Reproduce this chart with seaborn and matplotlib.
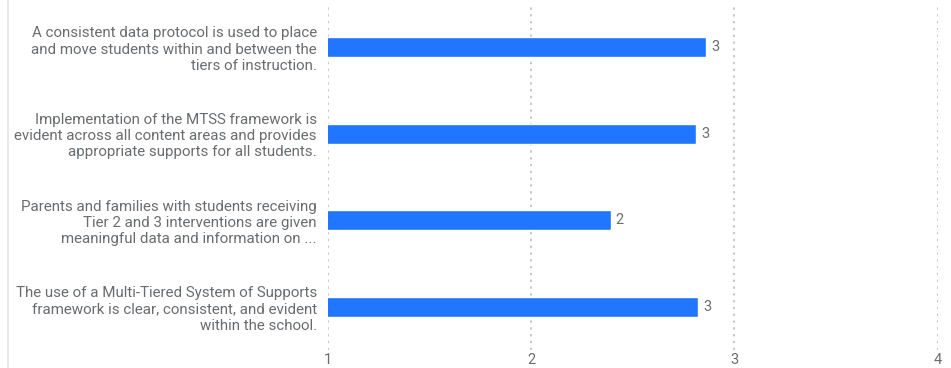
import matplotlib
matplotlib.use("Agg")
from matplotlib import pyplot as plt
import seaborn as sns
import pandas as pd

# statements and their mean scores
statements = [
    "A consistent data protocol is used to place\nand move students within and between the\ntiers of instruction.",
    "Implementation of the MTSS framework is\nevident across all content areas and provides\nappropriate supports for all students.",
    "Parents and families with students receiving\nTier 2 and 3 interventions are given\nmeaningful data and information on ...",
    "The use of a Multi-Tiered System of Supports\nframework is clear, consistent, and evident\nwithin the school.",
]
scores = [2.86, 2.81, 2.39, 2.82]
x_ticks = [1, 2, 3, 4]

df = pd.DataFrame({"statement": statements, "score": scores})

sns.set_style("white")
plt.rcParams["font.family"] = ["Roboto", "DejaVu Sans"]

fig = plt.figure(figsize=(9.51, 3.68), dpi=100)
ax = fig.add_axes([0.345, 0.048, 0.641, 0.942])

sns.barplot(data=df, x="score", y="statement", orient="h",
            color="#2176ff", saturation=1, width=0.23, ax=ax)

ax.set_xlim(1, 4)
ax.set_ylim(3.5, -0.5)
ax.set_xticks(x_ticks)
ax.set_xticklabels([str(t) for t in x_ticks])
ax.set_xlabel("")
ax.set_ylabel("")
for s in ax.spines.values():
    s.set_visible(False)
ax.grid(axis="x", linestyle=(0, (1.2, 2.3)), color="#c8c8c8", linewidth=1.4)
ax.set_axisbelow(True)
ax.tick_params(axis="x", length=0, labelsize=10.5, labelcolor="#6a6d70", pad=2)
ax.tick_params(axis="y", length=0, labelsize=10.9, labelcolor="#6a6d70", pad=8)
for lab in ax.get_yticklabels():
    lab.set_horizontalalignment("right")
    lab.set_multialignment("right")
    lab.set_linespacing(1.2)

for i, v in enumerate(scores):
    ax.text(v + 0.025, i, f"{v:.0f}", va="center", ha="left",
            fontsize=10.5, color="#6a6d70")

# faint panel border on the left
fig.add_artist(plt.Line2D([0.0085, 0.0085], [0, 1], color="#e5e5e5", linewidth=1.2))

fig.savefig("out.png", dpi=100)
